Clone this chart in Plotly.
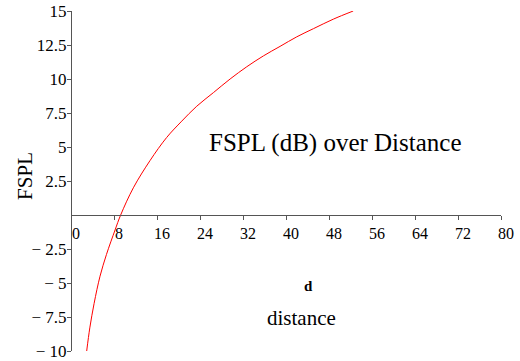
import plotly.graph_objects as go

# Values
distance = [2.92, 3.5, 4.3, 5.4, 6.6, 8.2, 9.24, 11.6, 14.7, 17.8, 20.6, 23.4,
            26.5, 29.6, 32.7, 35.8, 38.9, 42.0, 45.1, 48.8, 52.5]
fspl = [-10.0, -8.3, -6.5, -4.5, -2.9, -1.1, 0.0, 2.0, 4.0, 5.7, 6.9, 8.0,
        9.0, 10.0, 10.9, 11.7, 12.4, 13.1, 13.7, 14.4, 15.0]

x_ticks = [0, 8, 16, 24, 32, 40, 48, 56, 64, 72, 80]
x_ticktext = ["0", "8", "16", "24", "32", "40", "48", "56", "64", "72", "80"]
y_ticks = [-10, -7.5, -5, -2.5, 2.5, 5, 7.5, 10, 12.5, 15]
y_ticktext = ["\u2212 10", "\u2212 7.5", "\u2212 5", "\u2212 2.5", "2.5", "5", "7.5", "10", "12.5", "15"]

FONT = "Liberation Serif"
AX = "#555555"

fig = go.Figure()
fig.add_trace(go.Scatter(x=distance, y=fspl, mode="lines",
                         line=dict(color="#ff0000", width=1, shape="spline"),
                         hoverinfo="skip", showlegend=False))

fig.update_layout(
    width=520, height=361,
    margin=dict(l=71, r=19, t=11, b=10, autoexpand=False),
    paper_bgcolor="white", plot_bgcolor="white",
    font=dict(family=FONT, color="black", size=17),
    xaxis=dict(range=[0, 80], anchor="free", position=0.4, automargin=False,
               tickvals=x_ticks, ticktext=x_ticktext,
               ticks="outside", ticklen=4, tickcolor=AX, tickwidth=1,
               showline=True, linecolor=AX, linewidth=1,
               showgrid=False, zeroline=False,
               tickfont=dict(family=FONT, size=16, color="black"),
               ticklabelshift=5),
    yaxis=dict(range=[-10, 15], anchor="free", position=0, automargin=False,
               tickvals=y_ticks, ticktext=y_ticktext,
               ticks="outside", ticklen=4, tickcolor=AX, tickwidth=1,
               showline=True, linecolor=AX, linewidth=1,
               showgrid=False, zeroline=False,
               tickfont=dict(family=FONT, size=17, color="black"),
               ticklabelstandoff=-3),
    xaxis2=dict(range=[0, 80], overlaying="x", anchor="free", position=0.4, automargin=False,
                tickvals=x_ticks[1:], ticks="inside", ticklen=4, tickcolor=AX,
                showticklabels=False, showline=False, showgrid=False, zeroline=False),
    yaxis2=dict(range=[-10, 15], overlaying="y", anchor="free", position=0, automargin=False,
                tickvals=y_ticks, ticks="inside", ticklen=4, tickcolor=AX,
                showticklabels=False, showline=False, showgrid=False, zeroline=False),
    annotations=[
        dict(text="FSPL", xref="paper", yref="paper", x=-0.107, y=0.515,
             xanchor="center", yanchor="middle",
             textangle=-90, showarrow=False, font=dict(family=FONT, size=21)),
        dict(text="FSPL (dB) over Distance", xref="paper", yref="paper",
             x=0.614, y=0.612, xanchor="center", yanchor="middle",
             showarrow=False, font=dict(family=FONT, size=25)),
        dict(text="<b>d</b>", xref="paper", yref="paper", x=0.553, y=0.191,
             xanchor="center", yanchor="middle",
             showarrow=False, font=dict(family=FONT, size=15)),
        dict(text="distance", xref="paper", yref="paper", x=0.537, y=0.097,
             xanchor="center", yanchor="middle",
             showarrow=False, font=dict(family=FONT, size=21)),
    ],
)

fig.write_html("out.html", config={"displayModeBar": False},
               post_script="document.body.style.margin='0';")
